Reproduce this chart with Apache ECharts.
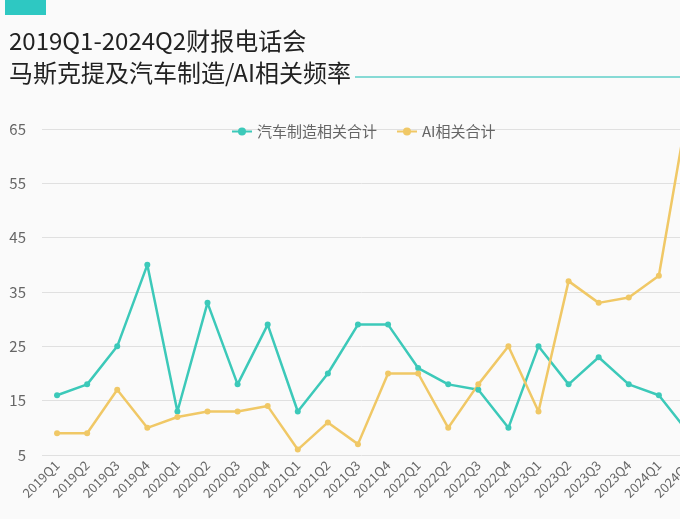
<!DOCTYPE html>
<html><head><meta charset="utf-8">
<script src="https://cdn.jsdelivr.net/npm/echarts@6/dist/echarts.min.js"></script>
<style>html,body{margin:0;padding:0;background:#fafafa;}#c{width:680px;height:519px;}</style>
</head><body><div id="c"></div>
<script>
const categories = ['2019Q1','2019Q2','2019Q3','2019Q4','2020Q1','2020Q2','2020Q3','2020Q4','2021Q1','2021Q2','2021Q3','2021Q4','2022Q1','2022Q2','2022Q3','2022Q4','2023Q1','2023Q2','2023Q3','2023Q4','2024Q1','2024Q2'];
const autoValues = [16,18,25,40,13,33,18,29,13,20,29,29,21,18,17,10,25,18,23,18,16,9];
const aiValues = [9,9,17,10,12,13,13,14,6,11,7,20,20,10,18,25,13,37,33,34,38,70];
const seriesNames = ['汽车制造相关合计','AI相关合计'];
const titleLines = ['2019Q1-2024Q2财报电话会','马斯克提及汽车制造/AI相关频率'];

const chart = echarts.init(document.getElementById('c'), null, {renderer:'canvas'});
const font = '"Noto Sans CJK SC","Noto Sans",sans-serif';
chart.setOption({
  backgroundColor:'#fafafa',
  animation:false,
  textStyle:{fontFamily:font},
  title:{
    text: titleLines.join('\n'),
    left:4, top:20,
    textStyle:{fontSize:24, fontWeight:'normal', color:'#222', lineHeight:32, fontFamily:font}
  },
  graphic:[
    {type:'rect', shape:{x:5,y:0,width:41,height:15}, style:{fill:'#2ec8c2'}},
    {type:'line', shape:{x1:355,y1:77,x2:680,y2:77}, style:{stroke:'#5fcfc8', lineWidth:1.5}}
  ],
  legend:{
    left:226, top:119,
    itemWidth:20, itemHeight:10, itemGap:19,
    textStyle:{fontSize:15, color:'#666', fontFamily:font},
    data: seriesNames
  },
  grid:{left:42, top:129, width:662, height:326, containLabel:false, outerBoundsMode:'none'},
  xAxis:{
    type:'category', data:categories, boundaryGap:true,
    axisLine:{show:false}, axisTick:{show:false},
    axisLabel:{rotate:45, fontSize:13, color:'#666', margin:8, interval:0, fontFamily:font}
  },
  yAxis:{
    type:'value', min:5, max:65, interval:10,
    axisLine:{show:false}, axisTick:{show:false},
    axisLabel:{fontSize:15, color:'#666', margin:16, fontFamily:font},
    splitLine:{lineStyle:{color:'#e0e0e0', width:1}}
  },
  series:[
    {name:seriesNames[0], type:'line', data:autoValues, symbol:'circle', symbolSize:6,
     lineStyle:{width:2.5, color:'#3cc9b9'}, itemStyle:{color:'#3cc9b9'}},
    {name:seriesNames[1], type:'line', data:aiValues, symbol:'circle', symbolSize:6,
     lineStyle:{width:2.5, color:'#f0c866'}, itemStyle:{color:'#f0c866'}}
  ]
});
</script></body></html>
